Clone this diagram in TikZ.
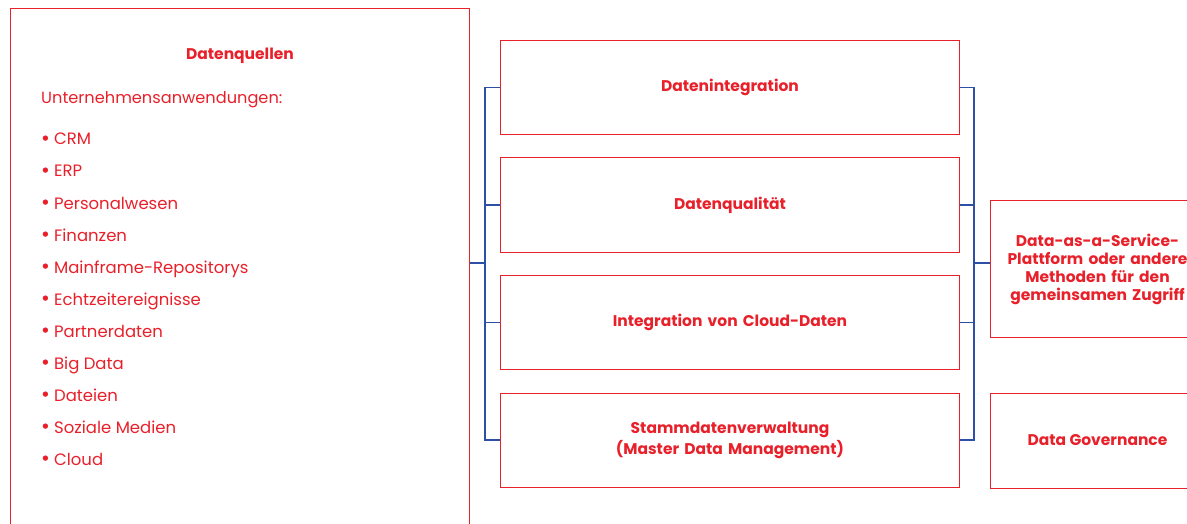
\documentclass[tikz,border=0pt]{standalone}
\usepackage{fontspec}
\setmainfont{Poppins}
\definecolor{dred}{HTML}{E8202A}
\definecolor{dblue}{HTML}{2E4FA6}
\newcommand{\bigdot}{\raisebox{4.2pt}{\tikz\fill[dred] (0,0) circle (2.7pt);}\hspace{6pt}}
\tikzset{
  box/.style={draw=dred, line width=1pt, rectangle, anchor=north west, inner sep=0pt},
  bfont/.style={font=\fontsize{15.5}{21}\selectfont\bfseries, text=dred},
  midbox/.style={box, bfont, minimum width=459pt, minimum height=94pt, text width=330pt, align=center},
  conn/.style={draw=dblue, line width=1.2pt},
  item/.style={anchor=base west, text=dred, font=\fontsize{16.5}{19}\selectfont, inner sep=0pt},
}
\begin{document}
\begin{tikzpicture}[x=1pt,y=1pt]
\useasboundingbox (0,0) rectangle (1187,-524);
\clip (0,0) rectangle (1187,-524);
% source box
\node[box, minimum width=459pt, minimum height=540pt] (src) at (10,-8) {};
\node[bfont, anchor=base] (srct) at (240,-60) {Datenquellen};
\node[item, font=\fontsize{16.2}{19}\selectfont] (sub) at (41,-104) {Unternehmensanwendungen:};
\foreach \t [count=\i] in {CRM,ERP,Personalwesen,Finanzen,Mainframe-Repositorys,Echtzeitereignisse,Partnerdaten,Big Data,Dateien,Soziale Medien,Cloud}{
  \node[item] (it\i) at (42.5,{-145-32*(\i-1)}) {\bigdot\t};
}
% middle boxes
\node[midbox] (m1) at (500,-40) {Datenintegration};
\node[midbox] (m2) at (500,-157.5) {Datenqualität};
\node[midbox] (m3) at (500,-275) {Integration von Cloud-Daten};
\node[midbox] (m4) at (500,-392.5) {Stammdatenverwaltung\\(Master Data Management)};
% right boxes
\node[box, bfont, minimum width=214pt, minimum height=137pt, text width=210pt, align=center, font=\fontsize{15.5}{18}\selectfont\bfseries] (d1) at (990,-200) {Data-as-a-Service-\\Plattform oder andere\\Methoden für den\\gemeinsamen Zugriff};
\node[box, bfont, minimum width=214pt, minimum height=95pt] (d2) at (990,-392.5) {Data Governance};
% brackets
\coordinate (lb) at (485,-263);
\coordinate (rb) at (974,-263);
\draw[conn] (m1.west) -- (m1.west -| lb) -- (m4.west -| lb) -- (m4.west);
\draw[conn] (m2.west) -- (m2.west -| lb);
\draw[conn] (m3.west) -- (m3.west -| lb);
\draw[conn] (src.east |- lb) -- (lb);
\draw[conn] (m1.east) -- (m1.east -| rb) -- (m4.east -| rb) -- (m4.east);
\draw[conn] (m2.east) -- (m2.east -| rb);
\draw[conn] (m3.east) -- (m3.east -| rb);
\draw[conn] (rb) -- (d1.west |- rb);
\end{tikzpicture}
\end{document}
